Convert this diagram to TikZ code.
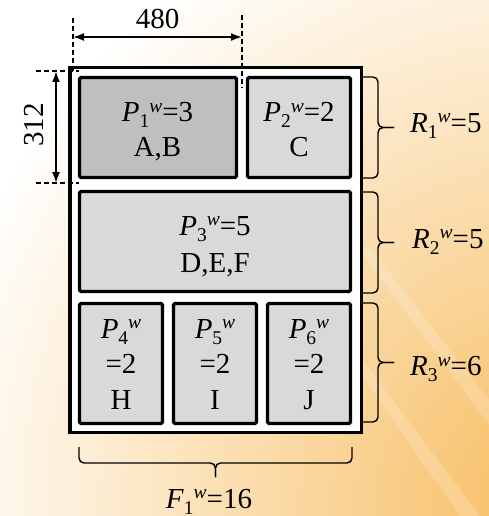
\documentclass[tikz,border=0pt]{standalone}
\usepackage{fontspec}
\setmainfont{Liberation Serif}
\usetikzlibrary{arrows.meta}
\definecolor{boxgray}{RGB}{217,217,217}
\definecolor{boxdark}{RGB}{191,191,191}
\definecolor{warm}{RGB}{247,188,95}
\newcommand\lowsub[1]{\raisebox{-6pt}{\fontsize{19.5}{19.5}\selectfont #1}}
\newcommand\highsup[1]{\raisebox{9.5pt}{\fontsize{19.5}{19.5}\selectfont\textit{#1}}}
\newcommand\Wv[2]{\textit{#1}\lowsub{#2}\highsup{w}}
\begin{document}
\begin{tikzpicture}[x=1pt,y=-1pt,
  lbl/.style={font=\fontsize{29}{34}\selectfont, inner sep=0pt, anchor=base},
  part/.style={draw, line width=3.2pt, rounded corners=1.5pt, fill=boxgray, inner sep=0pt},
  frame/.style={draw, line width=3.5pt, fill=white, inner sep=0pt},
  brc/.style={line width=1.4pt, rounded corners=5pt},
  dim/.style={line width=1.8pt, {Latex[length=11pt,width=8pt]}-{Latex[length=11pt,width=8pt]}},
  guide/.style={line width=1.2pt, dash pattern=on 5pt off 3pt}]
\useasboundingbox (0,0) rectangle (489,516);
% background
\begin{scope}
  \clip (0,0) rectangle (489,516);
  \shade[inner color=warm, outer color=white] (560,500) circle (640pt);
  \fill[white, fill opacity=0.18] (360,250) -- (372,250) -- (489,400) -- (489,425) -- cycle;
  \fill[white, fill opacity=0.18] (330,330) -- (340,330) -- (480,516) -- (460,516) -- cycle;
\end{scope}
% frame and parts
\node[frame, minimum width=291.5pt, minimum height=364.5pt] (F) at (215.5,250) {};
\node[part, fill=boxdark, minimum width=157pt, minimum height=100pt] (P1) at (158,127.5) {};
\node[part, minimum width=103pt, minimum height=100pt] (P2) at (299,127.5) {};
\node[part, minimum width=271pt, minimum height=100pt] (P3) at (215,241.5) {};
\node[part, minimum width=83pt, minimum height=120pt] (P4) at (121,363.5) {};
\node[part, minimum width=83pt, minimum height=120pt] (P5) at (215,363.5) {};
\node[part, minimum width=83pt, minimum height=120pt] (P6) at (309,363.5) {};
% texts in parts
\node[lbl] (t1a) at (157.5,121.7) {\Wv{P}{1}=3};
\node[lbl] (t1b) at (157.5,156.7) {A,B};
\node[lbl] (t2a) at (299,121.7) {\Wv{P}{2}=2};
\node[lbl] (t2b) at (299,156.7) {C};
\node[lbl] (t3a) at (215,235) {\Wv{P}{3}=5};
\node[lbl] (t3b) at (215,272) {D,E,F};
\node[lbl] (t4a) at (121,338.3) {\Wv{P}{4}};
\node[lbl] (t4b) at (121,373.3) {=2};
\node[lbl] (t4c) at (121,409) {H};
\node[lbl] (t5a) at (215,338.3) {\Wv{P}{5}};
\node[lbl] (t5b) at (215,373.3) {=2};
\node[lbl] (t5c) at (215,409) {I};
\node[lbl] (t6a) at (309,338.3) {\Wv{P}{6}};
\node[lbl] (t6b) at (309,373.3) {=2};
\node[lbl] (t6c) at (309,409) {J};
% dimension 480
\coordinate (g1t) at (73,18);  \coordinate (g1b) at (73,72);
\coordinate (g2t) at (242,15); \coordinate (g2b) at (242,88);
\draw[guide] (g1t) -- (g1b);
\draw[guide] (g2t) -- (g2b);
\coordinate (h1) at (73,37); \coordinate (h2) at (242,37);
\draw[dim] (h1) -- (h2);
\node[lbl] (d480) at (157.5,28.3) {480};
% dimension 312
\coordinate (g3l) at (36,71);  \coordinate (g3r) at (79,71);
\coordinate (g4l) at (36,183); \coordinate (g4r) at (79,183);
\draw[guide] (g3l) -- (g3r);
\draw[guide] (g4l) -- (g4r);
\coordinate (v1) at (56,71); \coordinate (v2) at (56,183);
\draw[dim] (v1) -- (v2);
\node[lbl, rotate=90] (d312) at (43,125) {312};
% right braces
\draw[brc] (363,77) -- (378,77) -- (378,127.5) -- (394,127.5);
\draw[brc] (363,178) -- (378,178) -- (378,127.5) -- (394,127.5);
\draw[brc] (363,192) -- (378,192) -- (378,242.5) -- (394,242.5);
\draw[brc] (363,293) -- (378,293) -- (378,242.5) -- (394,242.5);
\draw[brc] (363,303) -- (378,303) -- (378,362.5) -- (394,362.5);
\draw[brc] (363,422) -- (378,422) -- (378,362.5) -- (394,362.5);
\node[lbl, anchor=base west] (R1) at (410,132.3) {\Wv{R}{1}=5};
\node[lbl, anchor=base west] (R2) at (412,248.3) {\Wv{R}{2}=5};
\node[lbl, anchor=base west] (R3) at (410,375.5) {\Wv{R}{3}=6};
% bottom brace
\draw[brc] (79,447) -- (79,463) -- (215.5,463) -- (215.5,477);
\draw[brc] (352,447) -- (352,463) -- (215.5,463) -- (215.5,477);
\node[lbl] (F1) at (209,508) {\Wv{F}{1}=16};
\end{tikzpicture}
\end{document}
